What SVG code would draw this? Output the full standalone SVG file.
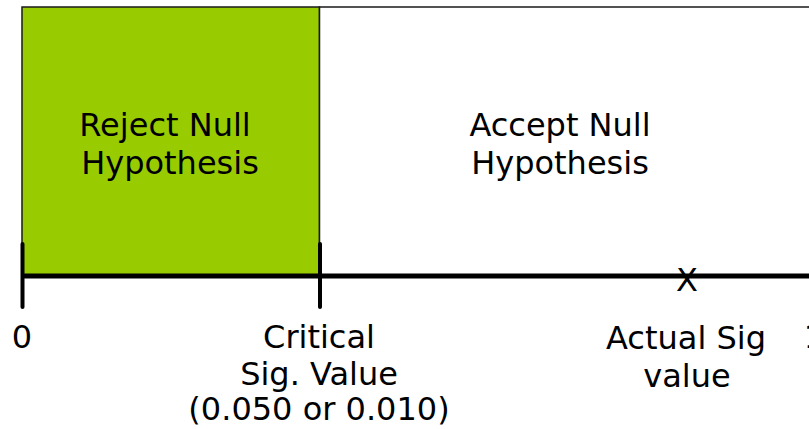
<svg xmlns="http://www.w3.org/2000/svg" width="809" height="429" viewBox="0 0 809 429">
<style>
text{font-family:"DejaVu Sans",Verdana,sans-serif;font-size:32px;fill:#000;text-anchor:middle}
.box{stroke:#1a1a1a;stroke-width:1.5}
.tick{stroke:#000;stroke-width:4;stroke-linecap:round}
</style>
<rect width="809" height="429" fill="#fff"/>
<g id="reject">
<rect class="box" x="22" y="7" width="297.5" height="269" fill="#99cc00"/>
<text x="165" y="136">Reject Null</text>
<text x="170" y="174">Hypothesis</text>
</g>
<g id="accept">
<rect class="box" x="319.5" y="7" width="500" height="269" fill="#fff"/>
<text x="560" y="136">Accept Null</text>
<text x="560" y="174">Hypothesis</text>
</g>
<g id="axis">
<line x1="22" y1="276" x2="809" y2="276" stroke="#000" stroke-width="5"/>
<line class="tick" x1="22.5" y1="244" x2="22.5" y2="307"/>
<line class="tick" x1="320" y1="244" x2="320" y2="307"/>
</g>
<g id="labels">
<text x="22" y="348">0</text>
<text x="319" y="348">Critical</text>
<text x="319" y="385">Sig. Value</text>
<text x="319" y="420">(0.050 or 0.010)</text>
<text x="687" y="291">X</text>
<text x="686" y="349">Actual Sig</text>
<text x="687" y="387">value</text>
<text x="814" y="348">1</text>
</g>
</svg>
